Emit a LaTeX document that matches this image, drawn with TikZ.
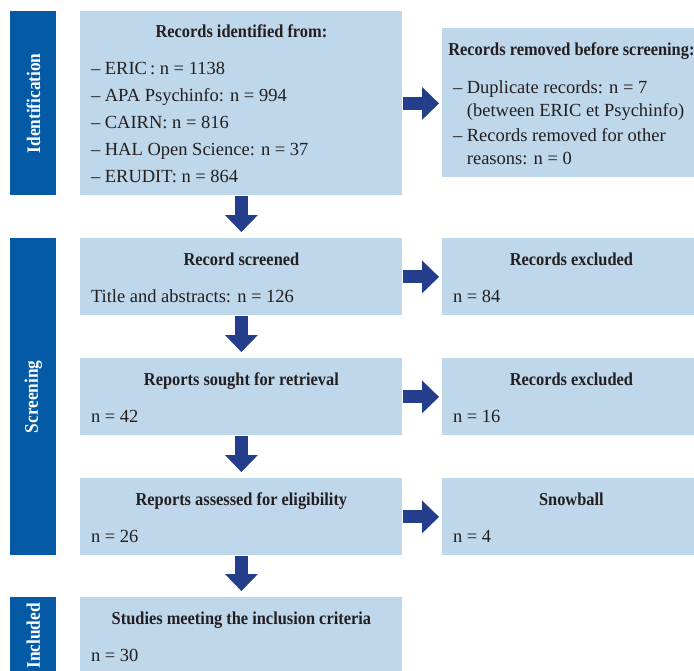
\documentclass[tikz,border=0pt]{standalone}
\usepackage{fontspec}
\setmainfont{Liberation Serif}
\newfontfamily\headfont[FakeStretch=0.9]{Liberation Serif}
\usetikzlibrary{arrows.meta,positioning}
\definecolor{phaseblue}{RGB}{4,90,165}
\definecolor{boxblue}{RGB}{191,215,234}
\definecolor{arrowblue}{RGB}{36,62,140}
\definecolor{ink}{RGB}{35,31,32}

\begin{document}
\begin{tikzpicture}[x=0.5pt,y=-0.5pt]
    \tikzstyle{phase}=[rectangle,fill=phaseblue,anchor=north west,minimum width=23pt,inner sep=0pt]
    \tikzstyle{phase label}=[rotate=90,text=white,inner sep=0pt,font=\headfont\fontsize{9.6}{11}\selectfont\bfseries]
    \tikzstyle{box}=[rectangle,fill=boxblue,anchor=north west,minimum width=161pt,minimum height=38.5pt,inner sep=0pt]
    \tikzstyle{side}=[box,minimum width=129pt];
    \tikzstyle{head}=[anchor=base,text=ink,inner sep=0pt,font=\headfont\fontsize{9.1}{11}\selectfont\bfseries]
    \tikzstyle{body}=[anchor=base west,text=ink,inner sep=0pt,font=\fontsize{9.25}{11}\selectfont]
    \tikzstyle{list}=[body,anchor=north west,align=left]
    \tikzstyle{flow}=[draw=arrowblue,line width=6.5pt,-{Triangle[width=16.5pt,length=8.5pt,line width=0pt]},shorten >=3pt]

\useasboundingbox (0,0) rectangle (694,670);

\node[phase,minimum height=92pt] (idbar) at (10,11) {};
\node[phase,minimum height=158.5pt] (scbar) at (10,238) {};
\node[phase,minimum height=38.5pt] (inbar) at (10,597) {};
\node[phase label] (idtxt) at (idbar.center) {Identification};
\node[phase label] (sctxt) at (scbar.center) {Screening};
\node[phase label] (intxt) at (inbar.center) {Included};

\node[box,minimum height=92pt] (ident) at (80,11) {};
\node[side,minimum height=74.5pt] (removed) at (442,28) {};
\node[box] (screened) at (80,238) {};
\node[side] (excl1) at (442,238) {};
\node[box] (sought) at (80,358) {};
\node[side] (excl2) at (442,358) {};
\node[box] (assessed) at (80,478) {};
\node[side] (snow) at (442,478) {};
\node[box] (studies) at (80,597) {};

\node[head] (identT) at ([yshift=-13pt]ident.north) {Records identified from:};
\node[list,font=\fontsize{9.25}{13.5}\selectfont] (identL) at ([xshift=5.3pt,yshift=-25.4pt]ident.north west)
  {– ERIC\,: n = 1138\\– APA Psychinfo: n = 994\\– CAIRN: n = 816\\– HAL Open Science: n = 37\\– ERUDIT: n = 864};
\node[head] (removedT) at ([yshift=-13.5pt]removed.north) {Records removed before screening:};
\node[list,font=\fontsize{9.25}{11.25}\selectfont] (removedL) at ([xshift=5.3pt,yshift=-26.3pt]removed.north west)
  {– Duplicate records: n = 7\\\hphantom{–\ }(between ERIC et Psychinfo)\\[1.5pt]– Records removed for other\\\hphantom{–\ }reasons: n = 0};

\node[head] (screenedT) at ([yshift=-13.5pt]screened.north) {Record screened};
\node[body] (screenedN) at ([xshift=5.3pt,yshift=-32pt]screened.north west) {Title and abstracts: n = 126};
\node[head] (excl1T) at ([yshift=-13.5pt]excl1.north) {Records excluded};
\node[body] (excl1N) at ([xshift=5.3pt,yshift=-32pt]excl1.north west) {n = 84};
\node[head] (soughtT) at ([yshift=-13.5pt]sought.north) {Reports sought for retrieval};
\node[body] (soughtN) at ([xshift=5.3pt,yshift=-32pt]sought.north west) {n = 42};
\node[head] (excl2T) at ([yshift=-13.5pt]excl2.north) {Records excluded};
\node[body] (excl2N) at ([xshift=5.3pt,yshift=-32pt]excl2.north west) {n = 16};
\node[head] (assessedT) at ([yshift=-13.5pt]assessed.north) {Reports assessed for eligibility};
\node[body] (assessedN) at ([xshift=5.3pt,yshift=-32pt]assessed.north west) {n = 26};
\node[head] (snowT) at ([yshift=-13.5pt]snow.north) {Snowball};
\node[body] (snowN) at ([xshift=5.3pt,yshift=-32pt]snow.north west) {n = 4};
\node[head] (studiesT) at ([yshift=-13.5pt]studies.north) {Studies meeting the inclusion criteria};
\node[body] (studiesN) at ([xshift=5.3pt,yshift=-32pt]studies.north west) {n = 30};

\draw[flow] (ident.south) -- (screened.north);
\draw[flow] (screened.south) -- (sought.north);
\draw[flow] (sought.south) -- (assessed.north);
\draw[flow] (assessed.south) -- (studies.north);
\draw[flow,shorten >=1.5pt] (ident.east) -- (ident.east -| removed.west);
\draw[flow,shorten >=1.5pt] (screened.east) -- (excl1.west);
\draw[flow,shorten >=1.5pt] (sought.east) -- (excl2.west);
\draw[flow,shorten >=1.5pt] (assessed.east) -- (snow.west);
\end{tikzpicture}
\end{document}
